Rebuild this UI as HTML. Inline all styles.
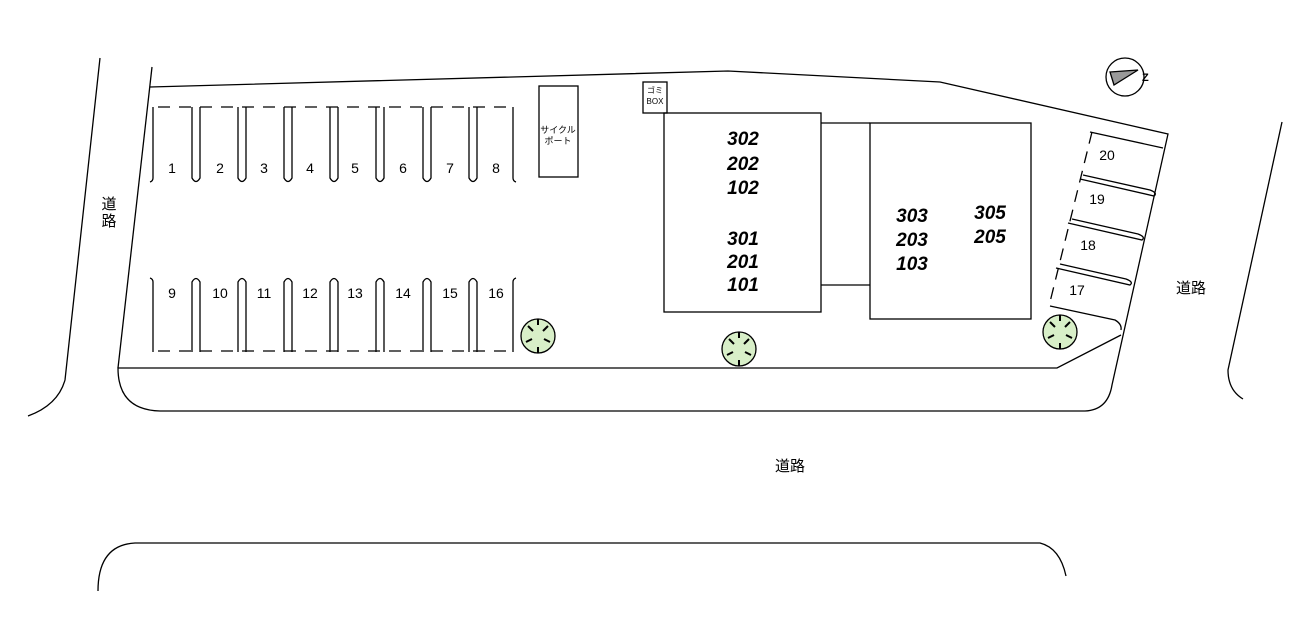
<!DOCTYPE html>
<html><head><meta charset="utf-8"><style>
body{margin:0;background:#fff}
svg{display:block}
text{font-family:"Liberation Sans","Noto Sans CJK JP",sans-serif}
.n{font-size:14px;text-anchor:middle}
.b{font-size:19px;font-weight:bold;font-style:italic;text-anchor:middle}
</style></head><body>
<svg width="1313" height="620" viewBox="0 0 1313 620" fill="none" stroke="#000" stroke-width="1.3">
<path d="M100 58 L65 380 Q58 405 28 416"/>
<path d="M1282 122 L1228 370 Q1228 390 1243 399"/>
<path d="M98 591 Q98 545 135 543 L1040 543 Q1060 548 1066 576"/>
<path d="M152 67 L118 368"/>
<path d="M150 87 L728 71 L940 82 L1168 134 L1112 385 Q1108 410 1085 411 L160 411 Q118 410 118 368 L1057 368 L1121 335"/>
<!-- top row -->
<path d="M158 107 H513" stroke-dasharray="12,9"/>
<path d="M153 107 V178 Q153 181 150 182"/>
<path d="M513 107 V178 Q513 181 516 182"/>
<g id="u"><path d="M192 107 V178 Q196 185 200 178 V107"/></g>
<use href="#u" x="46"/><use href="#u" x="92"/><use href="#u" x="138"/><use href="#u" x="184"/><use href="#u" x="231"/><use href="#u" x="277"/>
<!-- bottom row -->
<path d="M158 351 H513" stroke-dasharray="12,9"/>
<path d="M153 352 V282 Q153 279 150 278"/>
<path d="M513 352 V282 Q513 279 516 278"/>
<g id="d"><path d="M192 352 V282 Q196 275 200 282 V352"/></g>
<use href="#d" x="46"/><use href="#d" x="92"/><use href="#d" x="138"/><use href="#d" x="184"/><use href="#d" x="231"/><use href="#d" x="277"/>
<rect x="539" y="86" width="39" height="91"/>
<rect x="643" y="82" width="24" height="31"/>
<rect x="664" y="113" width="157" height="199"/>
<path d="M821 123 H870 M821 285 H870"/>
<rect x="870" y="123" width="161" height="196"/>
<!-- right stalls -->
<path d="M1092 132 L1050 302" stroke-dasharray="12,8"/>
<path d="M1090 132 L1163 148"/>
<path d="M1083 175 L1150 190 Q1158 193 1154 196 L1080 179"/>
<path d="M1072 219 L1138 234 Q1146 237 1142 240 L1068 223"/>
<path d="M1060 264 L1126 279 Q1134 282 1130 285 L1056 268"/>
<path d="M1050 306 L1115 320 Q1122 324 1121 330"/>
<!-- trees -->
<g fill="#d8efc8" stroke="#000">
<circle cx="538" cy="336" r="17"/><circle cx="739" cy="349" r="17"/><circle cx="1060" cy="332" r="17"/>
</g>
<g stroke-width="2">
<path d="M528 326l5 5M548 326l-5 5M538 319v6M526 342l6-3M550 342l-6-3M538 353v-6"/>
<path d="M729 339l5 5M749 339l-5 5M739 332v6M727 355l6-3M751 355l-6-3M739 366v-6"/>
<path d="M1050 322l5 5M1070 322l-5 5M1060 315v6M1048 338l6-3M1072 338l-6-3M1060 349v-6"/>
</g>
<!-- compass -->
<circle cx="1125" cy="77" r="19"/>
<path d="M1110 72 L1138 70 L1114 85 Z" fill="#999"/>
<g stroke="none" fill="#000">
<text x="1142" y="81" style="font-size:11px;font-weight:bold">Z</text>
<text class="n" x="172" y="173">1</text><text class="n" x="220" y="173">2</text><text class="n" x="264" y="173">3</text><text class="n" x="310" y="173">4</text><text class="n" x="355" y="173">5</text><text class="n" x="403" y="173">6</text><text class="n" x="450" y="173">7</text><text class="n" x="496" y="173">8</text>
<text class="n" x="172" y="298">9</text><text class="n" x="220" y="298">10</text><text class="n" x="264" y="298">11</text><text class="n" x="310" y="298">12</text><text class="n" x="355" y="298">13</text><text class="n" x="403" y="298">14</text><text class="n" x="450" y="298">15</text><text class="n" x="496" y="298">16</text>
<text class="n" x="1107" y="160">20</text><text class="n" x="1097" y="204">19</text><text class="n" x="1088" y="250">18</text><text class="n" x="1077" y="295">17</text>
<text x="558" y="133" style="font-size:9px;text-anchor:middle">サイクル</text>
<text x="558" y="144" style="font-size:9px;text-anchor:middle">ポート</text>
<text x="655" y="93" style="font-size:8px;text-anchor:middle">ゴミ</text>
<text x="655" y="104" style="font-size:8px;text-anchor:middle">BOX</text>
<text class="b" x="743" y="145">302</text><text class="b" x="743" y="170">202</text><text class="b" x="743" y="194">102</text>
<text class="b" x="743" y="245">301</text><text class="b" x="743" y="268">201</text><text class="b" x="743" y="291">101</text>
<text class="b" x="912" y="222">303</text><text class="b" x="912" y="246">203</text><text class="b" x="912" y="270">103</text>
<text class="b" x="990" y="219">305</text><text class="b" x="990" y="243">205</text>
<text x="109" y="209" style="font-size:15px;text-anchor:middle">道</text>
<text x="109" y="226" style="font-size:15px;text-anchor:middle">路</text>
<text x="1191" y="293" style="font-size:15px;text-anchor:middle">道路</text>
<text x="790" y="471" style="font-size:15px;text-anchor:middle">道路</text>
</g>
</svg>
</body></html>
